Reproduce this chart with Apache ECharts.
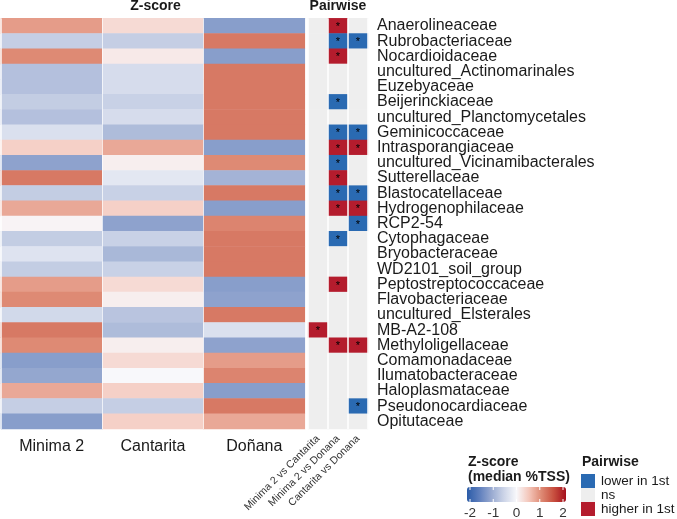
<!DOCTYPE html>
<html>
<head>
<meta charset="utf-8">
<script src="https://cdn.jsdelivr.net/npm/echarts@6/dist/echarts.min.js"></script>
<style>
  html, body { margin: 0; padding: 0; background: #fff; }
  #chart { width: 677px; height: 519px; }
</style>
</head>
<body>
<div id="chart"></div>
<script>
// sites / comparisons / taxa
const sites = ['Minima 2', 'Cantarita', 'Doñana']
const comparisons = ['Minima 2 vs Cantarita', 'Minima 2 vs Donana', 'Cantarita vs Donana']
const families = [
  'Anaerolineaceae', 'Rubrobacteriaceae', 'Nocardioidaceae', 'uncultured_Actinomarinales',
  'Euzebyaceae', 'Beijerinckiaceae', 'uncultured_Planctomycetales', 'Geminicoccaceae',
  'Intrasporangiaceae', 'uncultured_Vicinamibacterales', 'Sutterellaceae', 'Blastocatellaceae',
  'Hydrogenophilaceae', 'RCP2-54', 'Cytophagaceae', 'Bryobacteraceae', 'WD2101_soil_group',
  'Peptostreptococcaceae', 'Flavobacteriaceae', 'uncultured_Elsterales', 'MB-A2-108',
  'Methyloligellaceae', 'Comamonadaceae', 'Ilumatobacteraceae', 'Haloplasmataceae',
  'Pseudonocardiaceae', 'Opitutaceae'
]

// z-score of median %TSS, one array per site (same order as families)
const zMinima = [0.85, -0.58, 1.0, -0.75, -0.75, -0.6, -0.75, -0.35, 0.4, -1.1, 1.15, -0.6, 0.75, 0.05,
  -0.6, -0.3, -0.6, 0.85, 1.0, -0.45, 1.15, 1.0, -1.15, -1.05, 0.75, -0.58, -1.15]
const zCantarita = [0.3, -0.58, 0.15, -0.4, -0.4, -0.55, -0.4, -0.8, 0.75, 0.1, -0.25, -0.55, 0.4, -1.1,
  -0.55, -0.85, -0.55, 0.3, 0.1, -0.7, -0.8, 0.1, 0.3, 0.0, 0.4, -0.58, 0.4]
const zDonana = [-1.15, 1.15, -1.15, 1.15, 1.15, 1.15, 1.15, 1.15, -1.15, 1.0, -0.9, 1.15, -1.15, 1.05,
  1.15, 1.15, 1.15, -1.15, -1.1, 1.15, -0.35, -1.1, 0.85, 1.05, -1.15, 1.15, 0.75]

// pairwise result: -1 lower in 1st, 0 ns, 1 higher in 1st
const pairM2vsC = [0, 0, 0, 0, 0, 0, 0, 0, 0, 0, 0, 0, 0, 0, 0, 0, 0, 0, 0, 0, 1, 0, 0, 0, 0, 0, 0]
const pairM2vsD = [1, -1, 1, 0, 0, -1, 0, -1, 1, -1, 1, -1, 1, 0, -1, 0, 0, 1, 0, 0, 0, 1, 0, 0, 0, 0, 0]
const pairCvsD = [0, -1, 0, 0, 0, 0, 0, -1, 1, 0, 0, -1, 1, -1, 0, 0, 0, 0, 0, 0, 0, 1, 0, 0, 0, -1, 0]
const pairLabels = ['lower in 1st', 'ns', 'higher in 1st']
const zTicks = [-2, -1, 0, 1, 2]

const FONT = 'Liberation Sans, Arial, Helvetica, sans-serif'
const TXT = '#1a1a1a'

const zData = []
;[zMinima, zCantarita, zDonana].forEach((col, xi) => col.forEach((v, yi) => zData.push([xi, yi, v])))
const pData = []
;[pairM2vsC, pairM2vsD, pairCvsD].forEach((col, xi) => col.forEach((v, yi) => pData.push([xi, yi, v])))

const chart = echarts.init(document.getElementById('chart'))

// colour bar geometry for the legend
const bar = { x: 467, y: 487, w: 99, h: 15 }
const tickX = v => bar.x + 3 + (v + 2) / 4 * (bar.w - 6)
const tickGraphics = []
zTicks.forEach(v => {
  tickGraphics.push({ type: 'text', x: tickX(v), y: 513, style: { text: String(v), font: '13.5px ' + FONT, fill: '#333', align: 'center', verticalAlign: 'middle' } })
  tickGraphics.push({ type: 'line', shape: { x1: tickX(v), y1: bar.y, x2: tickX(v), y2: bar.y + 3 }, style: { stroke: '#fff', lineWidth: 1 }, z: 100 })
  tickGraphics.push({ type: 'line', shape: { x1: tickX(v), y1: bar.y + bar.h - 3, x2: tickX(v), y2: bar.y + bar.h }, style: { stroke: '#fff', lineWidth: 1 }, z: 100 })
})

chart.setOption({
  animation: false,
  textStyle: { fontFamily: FONT },
  grid: [
    { left: 1, top: 18.3, width: 304, height: 410.7 },
    { left: 308, top: 18.3, width: 60, height: 410.7 }
  ],
  xAxis: [
    {
      gridIndex: 0, type: 'category', data: sites, z: 5,
      axisLine: { show: false }, axisTick: { show: false },
      axisLabel: { fontSize: 16, color: TXT, margin: 10 },
      splitLine: { show: true, interval: 0, lineStyle: { color: 'rgba(255,255,255,0.7)', width: 1 } }
    },
    {
      gridIndex: 1, type: 'category', data: comparisons, z: 5,
      axisLine: { show: false }, axisTick: { show: false },
      axisLabel: { rotate: 45, fontSize: 10.5, color: '#333', margin: 8, interval: 0 },
      splitLine: { show: true, interval: 0, lineStyle: { color: '#fff', width: 1.5 } }
    }
  ],
  yAxis: [
    { gridIndex: 0, type: 'category', data: families, inverse: true, show: false },
    {
      gridIndex: 1, type: 'category', data: families, inverse: true, position: 'right',
      axisLine: { show: false }, axisTick: { show: false },
      axisLabel: { fontSize: 16, color: TXT, margin: 9, interval: 0 }
    }
  ],
  visualMap: [
    {
      type: 'continuous', seriesIndex: 0, min: -2, max: 2, calculable: false,
      orient: 'horizontal', left: bar.x, top: bar.y, padding: 0,
      itemWidth: bar.h, itemHeight: bar.w,
      inRange: { color: ['#2b5ca8', '#5f7fbd', '#9aabd1', '#cdd5e8', '#f8f8fb', '#f4c6ba', '#de8a74', '#c8503f', '#a50f1c'] }
    },
    {
      type: 'piecewise', seriesIndex: 1, orient: 'vertical', inverse: true, align: 'left',
      left: 581, top: 474, padding: 0, itemWidth: 14, itemHeight: 14, itemGap: 0, textGap: 6,
      itemSymbol: 'rect', selectedMode: false,
      textStyle: { fontSize: 13.5, color: TXT },
      pieces: [
        { value: -1, label: pairLabels[0], color: '#2a6ab2' },
        { value: 0, label: pairLabels[1], color: '#eeeeee' },
        { value: 1, label: pairLabels[2], color: '#b41c2d' }
      ]
    }
  ],
  graphic: [
    { type: 'text', x: 155.5, y: 6.5, style: { text: 'Z-score', font: 'bold 14px ' + FONT, fill: TXT, align: 'center', verticalAlign: 'middle' } },
    { type: 'text', x: 338, y: 6.5, style: { text: 'Pairwise', font: 'bold 14px ' + FONT, fill: TXT, align: 'center', verticalAlign: 'middle' } },
    { type: 'text', x: 468, y: 462, style: { text: 'Z-score', font: 'bold 14px ' + FONT, fill: TXT, align: 'left', verticalAlign: 'middle' } },
    { type: 'text', x: 468, y: 477, style: { text: '(median %TSS)', font: 'bold 14px ' + FONT, fill: TXT, align: 'left', verticalAlign: 'middle' } },
    { type: 'text', x: 582, y: 462, style: { text: 'Pairwise', font: 'bold 14px ' + FONT, fill: TXT, align: 'left', verticalAlign: 'middle' } },
    ...tickGraphics
  ],
  series: [
    {
      type: 'heatmap', xAxisIndex: 0, yAxisIndex: 0, data: zData,
      itemStyle: { borderWidth: 0 }, emphasis: { disabled: true }
    },
    {
      type: 'heatmap', xAxisIndex: 1, yAxisIndex: 1, data: pData,
      itemStyle: { borderWidth: 0 }, emphasis: { disabled: true },
      label: {
        show: true, fontSize: 11, color: '#000', offset: [0, 1],
        formatter: p => (p.value[2] !== 0 ? '*' : '')
      }
    }
  ]
})

window.addEventListener('resize', () => chart.resize())
</script>
</body>
</html>
